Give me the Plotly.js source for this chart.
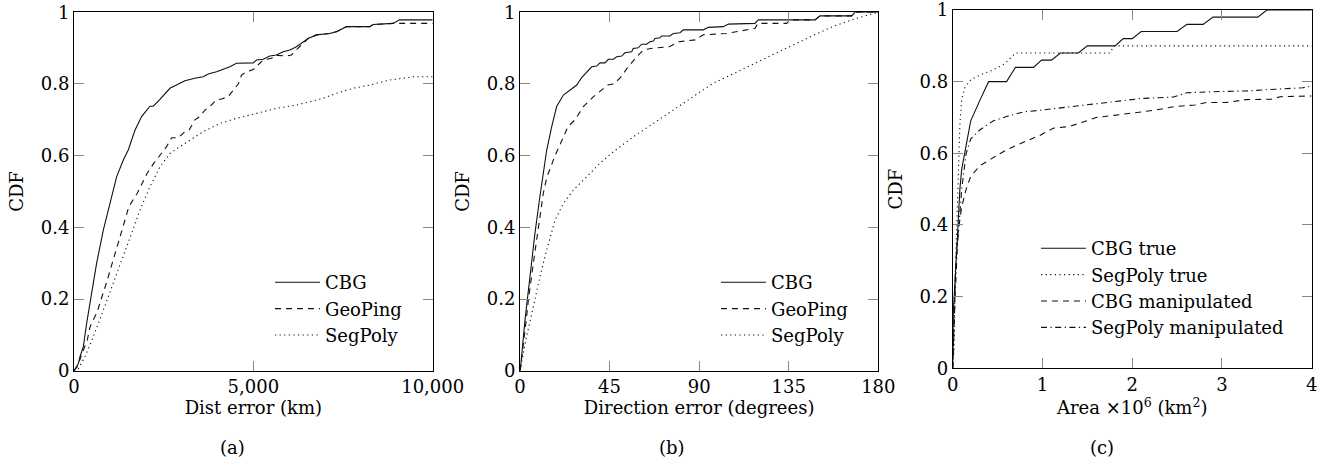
<!DOCTYPE html>
<html>
<head>
<meta charset="utf-8">
<script src="https://cdn.plot.ly/plotly-3.0.1.min.js"></script>
<style>
html,body{margin:0;padding:0;background:#fff;}
#chart{width:1323px;height:460px;}
</style>
</head>
<body>
<div id="chart"></div>
<script>
// ---------- Panel (a): distance error (km) ----------
const aCbgX = [0, 121, 167, 260, 353, 399, 492, 631, 817, 1003, 1188, 1374, 1513, 1699, 1885, 2117, 2210, 2396, 2674, 2953, 3092, 3370, 3603, 3742, 3974, 4160, 4345, 4531, 4995, 5088, 5274, 5460, 5645, 5831, 6017, 6202, 6388, 6527, 6759, 7131, 7317, 7409, 7595, 8245, 8338, 8895, 9081, 10000];
const aCbgY = [0, 0.02, 0.039, 0.067, 0.132, 0.16, 0.216, 0.30, 0.392, 0.466, 0.541, 0.588, 0.616, 0.671, 0.709, 0.738, 0.738, 0.757, 0.788, 0.802, 0.809, 0.816, 0.820, 0.828, 0.834, 0.841, 0.848, 0.858, 0.859, 0.867, 0.869, 0.878, 0.881, 0.890, 0.895, 0.904, 0.918, 0.927, 0.937, 0.941, 0.946, 0.951, 0.960, 0.960, 0.966, 0.969, 0.979, 0.979];
const aGeoX = [0, 93, 260, 371, 446, 649, 928, 1206, 1531, 1763, 2041, 2226, 2505, 2581, 2720, 2906, 3092, 3213, 3370, 3510, 3650, 3790, 3974, 4113, 4300, 4440, 4578, 4670, 4810, 4995, 5181, 5274, 5506, 5645, 5924, 6063, 6250, 6388, 6527, 6759, 7131, 7317, 7409, 7595, 8245, 8338, 8895, 10000];
const aGeoY = [0, 0.011, 0.057, 0.086, 0.122, 0.165, 0.253, 0.346, 0.458, 0.495, 0.551, 0.579, 0.616, 0.625, 0.650, 0.650, 0.667, 0.672, 0.700, 0.709, 0.727, 0.737, 0.756, 0.758, 0.765, 0.783, 0.800, 0.825, 0.834, 0.840, 0.860, 0.867, 0.872, 0.880, 0.878, 0.881, 0.900, 0.913, 0.927, 0.937, 0.941, 0.946, 0.951, 0.960, 0.960, 0.966, 0.969, 0.969];
const aSegX = [0, 120, 306, 539, 817, 1096, 1374, 1606, 1838, 2117, 2396, 2674, 2953, 3231, 3603, 4067, 4531, 5088, 5645, 6202, 6945, 7317, 7781, 8245, 8802, 9452, 10000];
const aSegY = [0, 0.005, 0.039, 0.095, 0.169, 0.243, 0.318, 0.383, 0.448, 0.513, 0.569, 0.606, 0.625, 0.643, 0.667, 0.690, 0.704, 0.718, 0.732, 0.741, 0.760, 0.774, 0.788, 0.797, 0.811, 0.820, 0.820];

// ---------- Panel (b): direction error (degrees) ----------
const bCbgX = [0, 0.3, 2.5, 5, 7.5, 10, 12.6, 13.4, 15.9, 18.4, 21.8, 28.5, 31.0, 36.0, 38.5, 40.2, 42.7, 44.4, 46.9, 48.6, 51.1, 52.7, 56.1, 56.9, 59.4, 61.1, 63.6, 65.3, 67.0, 67.8, 70.3, 71.2, 75.3, 77.0, 80.4, 82.0, 92.1, 94.6, 102.1, 104.7, 118.0, 119.7, 148.2, 150.7, 166.6, 168.3, 180];
const bCbgY = [0, 0.01, 0.141, 0.262, 0.383, 0.486, 0.597, 0.615, 0.680, 0.737, 0.769, 0.797, 0.818, 0.848, 0.850, 0.859, 0.859, 0.869, 0.869, 0.876, 0.878, 0.887, 0.890, 0.899, 0.901, 0.911, 0.911, 0.918, 0.920, 0.927, 0.929, 0.934, 0.934, 0.941, 0.943, 0.951, 0.951, 0.958, 0.960, 0.967, 0.969, 0.979, 0.979, 0.990, 0.990, 1.0, 1.0];
const bGeoX = [0, 0.3, 3.3, 4.2, 6.7, 9.2, 11.7, 13.5, 15.1, 17.6, 21.8, 24, 27.6, 31.8, 36.8, 41.9, 44, 47, 50.2, 54.4, 58.6, 62, 67, 75, 80, 88, 92, 103.8, 118, 119.5, 134, 135.6, 148.2, 150.7, 166.6, 168.3, 180];
const bGeoY = [0, 0.01, 0.15, 0.197, 0.30, 0.402, 0.495, 0.54, 0.565, 0.60, 0.652, 0.68, 0.70, 0.737, 0.764, 0.788, 0.797, 0.80, 0.816, 0.848, 0.876, 0.895, 0.90, 0.904, 0.918, 0.923, 0.937, 0.941, 0.955, 0.969, 0.969, 0.979, 0.979, 0.990, 0.990, 1.0, 1.0];
const bSegX = [0, 3.3, 6.7, 10, 13.4, 17.6, 21.8, 26.8, 33.5, 40.2, 46.9, 57, 67, 77, 87, 97, 107, 117, 127, 137, 147, 157, 167.4, 177.5, 180];
const bSegY = [0, 0.095, 0.179, 0.262, 0.337, 0.42, 0.467, 0.504, 0.541, 0.579, 0.611, 0.653, 0.69, 0.727, 0.765, 0.802, 0.828, 0.855, 0.880, 0.907, 0.935, 0.960, 0.980, 0.997, 1.0];

// ---------- Panel (c): area x10^6 km^2 ----------
const cCbgTrueX = [0, 0.007, 0.045, 0.08, 0.1, 0.14, 0.2, 0.31, 0.4, 0.6, 0.7, 0.9, 0.99, 1.1, 1.2, 1.4, 1.5, 1.81, 1.9, 2.0, 2.1, 2.5, 2.61, 2.79, 2.9, 3.4, 3.5, 4];
const cCbgTrueY = [0, 0.16, 0.33, 0.50, 0.555, 0.61, 0.69, 0.752, 0.80, 0.80, 0.84, 0.84, 0.86, 0.86, 0.88, 0.88, 0.90, 0.90, 0.92, 0.92, 0.94, 0.94, 0.96, 0.96, 0.98, 0.98, 1.0, 1.0];
const cSegTrueX = [0, 0.015, 0.026, 0.045, 0.065, 0.08, 0.1, 0.137, 0.2, 0.3, 0.42, 0.55, 0.6, 0.7, 1.75, 1.8, 4];
const cSegTrueY = [0, 0.05, 0.24, 0.42, 0.56, 0.68, 0.75, 0.785, 0.805, 0.818, 0.83, 0.845, 0.855, 0.88, 0.88, 0.90, 0.90];
const cCbgManX = [0, 0.007, 0.02, 0.035, 0.06, 0.1, 0.15, 0.2, 0.3, 0.4, 0.5, 0.6, 0.8, 0.97, 1.12, 1.3, 1.46, 1.6, 1.8, 2.0, 2.24, 2.46, 2.7, 2.83, 3.05, 3.27, 3.55, 3.65, 4];
const cCbgManY = [0, 0.05, 0.17, 0.30, 0.38, 0.45, 0.50, 0.535, 0.565, 0.58, 0.595, 0.61, 0.632, 0.65, 0.67, 0.675, 0.688, 0.70, 0.706, 0.712, 0.72, 0.73, 0.735, 0.742, 0.742, 0.75, 0.751, 0.758, 0.76];
const cSegManX = [0, 0.01, 0.026, 0.05, 0.063, 0.1, 0.15, 0.2, 0.3, 0.45, 0.6, 0.8, 0.97, 1.2, 1.45, 1.64, 1.85, 2.1, 2.46, 2.61, 2.9, 3.27, 3.6, 3.9, 4];
const cSegManY = [0, 0.10, 0.19, 0.33, 0.38, 0.50, 0.60, 0.64, 0.665, 0.69, 0.703, 0.716, 0.72, 0.727, 0.733, 0.74, 0.746, 0.753, 0.757, 0.769, 0.772, 0.774, 0.779, 0.783, 0.788];

// ---------- tick labels / titles ----------
const yTickVals = [0, 0.2, 0.4, 0.6, 0.8, 1];
const yTickText = ['0', '0.2', '0.4', '0.6', '0.8', '1'];
const aTickVals = [0, 5000, 10000];
const aTickText = ['0', '5,000', '10,000'];
const bTickVals = [0, 45, 90, 135, 180];
const bTickText = ['0', '45', '90', '135', '180'];
const cTickVals = [0, 1, 2, 3, 4];
const cTickText = ['0', '1', '2', '3', '4'];
const seriesAB = ['CBG', 'GeoPing', 'SegPoly'];
const seriesC = ['CBG true', 'SegPoly true', 'CBG manipulated', 'SegPoly manipulated'];
const captions = ['(a)', '(b)', '(c)'];

// ---------- styles ----------
const FONT = 'DejaVu Serif';
const FS = 18;
const SOLID = 'solid';
const DASHED = '6px,5px';
const DOTTED = '1.2px,3.4px';
const DASHDOT = '6px,3.5px,1.2px,3.5px';
const W = 1.1;
const INK = '#111';

function tr(x, y, name, dash, xa, ya, leg) {
  return {x: x, y: y, name: name, type: 'scatter', mode: 'lines',
          line: {color: INK, width: W, dash: dash, shape: 'linear'},
          xaxis: xa, yaxis: ya, legend: leg, hoverinfo: 'skip'};
}

const data = [
  tr(aCbgX, aCbgY, seriesAB[0], SOLID, 'x', 'y', 'legend'),
  tr(aGeoX, aGeoY, seriesAB[1], DASHED, 'x', 'y', 'legend'),
  tr(aSegX, aSegY, seriesAB[2], DOTTED, 'x', 'y', 'legend'),
  tr(bCbgX, bCbgY, seriesAB[0], SOLID, 'x2', 'y2', 'legend2'),
  tr(bGeoX, bGeoY, seriesAB[1], DASHED, 'x2', 'y2', 'legend2'),
  tr(bSegX, bSegY, seriesAB[2], DOTTED, 'x2', 'y2', 'legend2'),
  tr(cCbgTrueX, cCbgTrueY, seriesC[0], SOLID, 'x3', 'y3', 'legend3'),
  tr(cSegTrueX, cSegTrueY, seriesC[1], DOTTED, 'x3', 'y3', 'legend3'),
  tr(cCbgManX, cCbgManY, seriesC[2], DASHED, 'x3', 'y3', 'legend3'),
  tr(cSegManX, cSegManY, seriesC[3], DASHDOT, 'x3', 'y3', 'legend3')
];

const PW = 1323, PH = 460;
function fx(px) { return px / PW; }
function fy(px) { return (PH - px) / PH; }
const TXT = {family: FONT, size: FS, color: '#000'};

function xAxis(dom, range, vals, text, title, anchor) {
  return {domain: dom, range: range, anchor: anchor, tickmode: 'array', tickvals: vals, ticktext: text,
          showline: true, linecolor: '#000', linewidth: 1, mirror: 'ticks', ticks: 'inside', ticklen: 10,
          tickcolor: '#888', tickwidth: 1, showgrid: false, zeroline: false, automargin: false,
          ticklabeloverflow: 'allow', tickfont: TXT,
          title: {text: title, font: TXT, standoff: 2}};
}
function yAxis(dom, anchor) {
  return {domain: dom, range: [0, 1], anchor: anchor, tickmode: 'array', tickvals: yTickVals, ticktext: yTickText,
          showline: true, linecolor: '#000', linewidth: 1, mirror: 'ticks', ticks: 'inside', ticklen: 10,
          tickcolor: '#888', tickwidth: 1, showgrid: false, zeroline: false, automargin: false,
          ticklabeloverflow: 'allow', tickfont: TXT,
          title: {text: 'CDF', font: TXT, standoff: 12}};
}

const domA = [fx(74), fx(432.7)], domB = [fx(520), fx(878.3)], domC = [fx(952.7), fx(1311.7)];
const domYab = [fy(370.7), fy(12.3)], domYc = [fy(368.3), fy(10)];

function legendAt(xpx, ypx) {
  return {x: fx(xpx), y: fy(ypx), xanchor: 'left', yanchor: 'top', bgcolor: 'rgba(0,0,0,0)',
          borderwidth: 0, font: TXT, itemwidth: 45, tracegroupgap: 0, traceorder: 'normal'};
}

const layout = {
  width: PW, height: PH,
  margin: {l: 0, r: 0, t: 0, b: 0},
  paper_bgcolor: '#fff', plot_bgcolor: '#fff',
  font: TXT,
  showlegend: true,
  xaxis: xAxis(domA, [0, 10000], aTickVals, aTickText, 'Dist error (km)', 'y'),
  yaxis: yAxis(domYab, 'x'),
  xaxis2: xAxis(domB, [0, 180], bTickVals, bTickText, 'Direction error (degrees)', 'y2'),
  yaxis2: yAxis(domYab, 'x2'),
  xaxis3: xAxis(domC, [0, 4], cTickVals, cTickText, 'Area ×10<sup>6</sup> (km<sup>2</sup>)', 'y3'),
  yaxis3: yAxis(domYc, 'x3'),
  legend: legendAt(270, 264),
  legend2: legendAt(716, 264),
  legend3: legendAt(1036, 230),
  annotations: [
    {text: captions[0], xref: 'paper', yref: 'paper', x: fx(232), y: fy(447), xanchor: 'center', yanchor: 'middle', showarrow: false, font: TXT},
    {text: captions[1], xref: 'paper', yref: 'paper', x: fx(672), y: fy(447), xanchor: 'center', yanchor: 'middle', showarrow: false, font: TXT},
    {text: captions[2], xref: 'paper', yref: 'paper', x: fx(1102), y: fy(447), xanchor: 'center', yanchor: 'middle', showarrow: false, font: TXT}
  ]
};

Plotly.newPlot('chart', data, layout, {displayModeBar: false, staticPlot: true});
</script>
</body>
</html>
